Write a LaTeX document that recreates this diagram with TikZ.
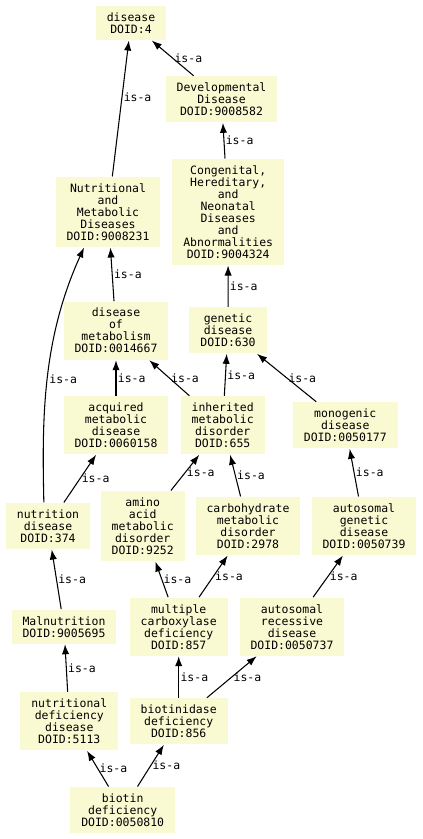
\documentclass[tikz,border=0pt]{standalone}
\usepackage{fontspec}
\setmonofont{DejaVu Sans Mono}
\usetikzlibrary{arrows.meta}
\definecolor{termfill}{RGB}{250,250,210}

\begin{document}
\begin{tikzpicture}[x=0.75pt,y=-0.75pt,->,>={Latex[length=7.5pt,width=5.5pt]},line width=0.8pt,
        term/.style={rectangle,fill=termfill,align=center,inner xsep=8.25pt,inner ysep=0pt,font=\ttfamily\fontsize{8.6}{9}\selectfont},
        lines/.style={minimum height={#1*9pt+7.5pt}},
        isa/.style={anchor=west,inner sep=1pt,font=\ttfamily\fontsize{8.6}{9}\selectfont}]
        \useasboundingbox (0,0) rectangle (423,839);
        \node [term, lines=2] (dis) at (131,23) {disease\\DOID:4};
        \node [term, lines=3] (dev) at (221.5,99.3) {Developmental\\Disease\\DOID:9008582};
        \node [term, lines=5] (nmd) at (108,212) {Nutritional\\and\\Metabolic\\Diseases\\DOID:9008231};
        \node [term, lines=8] (chn) at (228.2,212) {Congenital,\\Hereditary,\\and\\Neonatal\\Diseases\\and\\Abnormalities\\DOID:9004324};
        \node [term, lines=4] (dom) at (116,330.7) {disease\\of\\metabolism\\DOID:0014667};
        \node [term, lines=3] (gen) at (228,330.3) {genetic\\disease\\DOID:630};
        \node [term, lines=4] (amd) at (116,425.3) {acquired\\metabolic\\disease\\DOID:0060158};
        \node [term, lines=4] (imd) at (222.7,425.3) {inherited\\metabolic\\disorder\\DOID:655};
        \node [term, lines=3] (mon) at (345.3,425.3) {monogenic\\disease\\DOID:0050177};
        \node [term, lines=3] (nut) at (48,526) {nutrition\\disease\\DOID:374};
        \node [term, lines=5] (aam) at (142.7,526) {amino\\acid\\metabolic\\disorder\\DOID:9252};
        \node [term, lines=4] (cmd) at (248,526) {carbohydrate\\metabolic\\disorder\\DOID:2978};
        \node [term, lines=4] (agd) at (364,526) {autosomal\\genetic\\disease\\DOID:0050739};
        \node [term, lines=2] (mal) at (64,626.7) {Malnutrition\\DOID:9005695};
        \node [term, lines=4] (mcd) at (178.7,626.7) {multiple\\carboxylase\\deficiency\\DOID:857};
        \node [term, lines=4] (ard) at (292,626.7) {autosomal\\recessive\\disease\\DOID:0050737};
        \node [term, lines=4] (ndd) at (69.3,721.3) {nutritional\\deficiency\\disease\\DOID:5113};
        \node [term, lines=3] (bdd) at (178.7,721.3) {biotinidase\\deficiency\\DOID:856};
        \node [term, lines=3] (bio) at (122.7,810) {biotin\\deficiency\\DOID:0050810};
        \path [draw] (nmd) edge node[isa, pos=.58] {is-a} (dis);
        \path [draw] (dev) edge node[isa] {is-a} (dis);
        \path [draw] (chn) edge node[isa] {is-a} (dev);
        \path [draw] (dom) edge node[isa] {is-a} (nmd);
        \draw (nut.100) .. controls (42,420) and (42,340) .. node[isa] {is-a} (nmd.-124);
        \path [draw] (gen) edge node[isa] {is-a} (chn);
        \path [draw] (amd) edge node[isa] {is-a} (dom);
        \path [draw] (imd) edge node[isa] {is-a} (dom);
        \path [draw] (imd) edge node[isa] {is-a} (gen);
        \path [draw] (mon) edge node[isa] {is-a} (gen);
        \path [draw] (nut) edge node[isa] {is-a} (amd);
        \path [draw] (aam) edge node[isa] {is-a} (imd);
        \path [draw] (cmd) edge node[isa] {is-a} (imd);
        \path [draw] (agd) edge node[isa] {is-a} (mon);
        \path [draw] (mal) edge node[isa] {is-a} (nut);
        \path [draw] (mcd) edge node[isa] {is-a} (aam);
        \path [draw] (mcd) edge node[isa] {is-a} (cmd);
        \path [draw] (ard) edge node[isa] {is-a} (agd);
        \path [draw] (ndd) edge node[isa] {is-a} (mal);
        \path [draw] (bdd) edge node[isa] {is-a} (mcd);
        \path [draw] (bdd) edge node[isa] {is-a} (ard);
        \path [draw] (bio) edge node[isa] {is-a} (ndd);
        \path [draw] (bio) edge node[isa] {is-a} (bdd);
    \end{tikzpicture}
\end{document}
